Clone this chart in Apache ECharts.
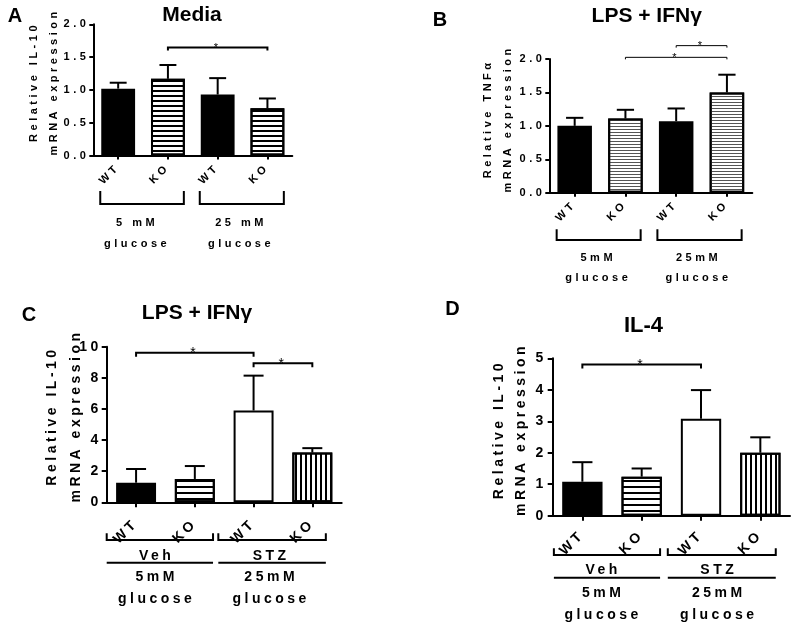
<!DOCTYPE html>
<html>
<head>
<meta charset="utf-8">
<script src="https://cdn.jsdelivr.net/npm/echarts@6/dist/echarts.min.js"></script>
<style>
html,body{margin:0;padding:0;background:#fff;}
#wrap{position:relative;width:800px;height:631px;}
#main,#over{position:absolute;left:0;top:0;width:800px;height:631px;}
#over{pointer-events:none;}
</style>
</head>
<body>
<div id="wrap"><div id="main"></div><div id="over"></div></div>
<script>
// ---------------- DATA ----------------
const categories = ['WT', 'KO', 'WT', 'KO'];
const panelLetters = ['A', 'B', 'C', 'D'];
const panelTitles = ['Media', 'LPS + IFNγ', 'LPS + IFNγ', 'IL-4'];
const yNames = [
  'Relative IL-10\nmRNA expression',
  'Relative TNFα\nmRNA expression',
  'Relative IL-10\nmRNA expression',
  'Relative IL-10\nmRNA expression'
];
// means and SEM (upward error bars)
const meanA = [1.02, 1.17, 0.93, 0.72];
const semA  = [0.09, 0.21, 0.25, 0.15];
const meanB = [1.00, 1.11, 1.07, 1.50];
const semB  = [0.12, 0.13, 0.19, 0.265];
const meanC = [1.26, 1.50, 5.90, 3.20];
const semC  = [0.88, 0.83, 2.24, 0.28];
const meanD = [1.08, 1.24, 3.08, 2.00];
const semD  = [0.62, 0.26, 0.91, 0.49];
// significance bars: [fromCategory, toCategory, yValue]
const sigA = [[1, 3, 1.645]];
const sigB = [[2, 3, 2.2], [1, 3, 2.025]];
const sigC = [[0, 2, 9.61], [2, 3, 8.93]];
const sigD = [[0, 2, 4.80]];
// y axis: [min, max, interval]
const yRangeA = [0, 2, 0.5];
const yRangeB = [0, 2, 0.5];
const yRangeC = [0, 10, 2];
const yRangeD = [0, 5, 1];
const yDecimals = [1, 1, 0, 0];
// group labels under the x axis
const groupsA = [['5 mM', 'glucose'], ['25 mM', 'glucose']];
const groupsB = [['5mM', 'glucose'], ['25mM', 'glucose']];
const groupsC = [['Veh', '5mM', 'glucose'], ['STZ', '25mM', 'glucose']];
const groupsD = [['Veh', '5mM', 'glucose'], ['STZ', '25mM', 'glucose']];

// ---------------- STYLE / LAYOUT ----------------
const FONT = "'Liberation Sans', Arial, sans-serif";
const BAR_W = 0.68;
const layouts = [
  {grid:{left:93.3, top:24.3, width:199, height:131.3}, fs:11, lh:20, nameGap:29, namePad:16, xMargin:10, yMargin:4, tickLen:4,
   sigW:2, sigTick:3, patterns:['solid','h5','solid','h5'], brackets:[[-0.36,1.32],[1.64,3.33]], textX:[0.38,2.47],
   bracketTop:35.3, bracketBot:48.3, textY:[67,88], underline:null},
  {grid:{left:549.3, top:59, width:203, height:133.7}, fs:11, lh:20, nameGap:31, namePad:14, xMargin:10, yMargin:4, tickLen:4,
   sigW:1, sigTick:2, patterns:['solid','h3','solid','h3'], brackets:[[-0.355,1.30],[1.63,3.29]], textX:[0.465,2.44],
   bracketTop:36.6, bracketBot:47.3, textY:[65.6,85.6], underline:null},
  {grid:{left:106.7, top:346.7, width:235, height:155.6}, fs:14, lh:24, nameGap:19, namePad:17, xMargin:19, yMargin:5, tickLen:5,
   sigW:2, sigTick:4, patterns:['solid','h6','open','v5'], brackets:[[-0.5,1.31],[1.40,3.23]], textX:[0.35,2.3],
   bracketTop:31, bracketBot:37.7, textY:[53.7,74.4,96.7], underline:60.4},
  {grid:{left:552.7, top:358.3, width:237.3, height:157.4}, fs:14, lh:22, nameGap:21, namePad:15, xMargin:17, yMargin:6, tickLen:5,
   sigW:2, sigTick:4, patterns:['solid','h6','open','v5'], brackets:[[-0.48,1.31],[1.44,3.26]], textX:[0.35,2.3],
   bracketTop:32.6, bracketBot:39.3, textY:[54.3,77,99.3], underline:62}
];
const titlePos = [[192,15,21],[646.7,16,21],[197,313,21],[643.5,326,22]];
const letterPos = [[15,16],[440,20],[29,315.7],[452.5,309]];

const means = [meanA, meanB, meanC, meanD];
const sems = [semA, semB, semC, semD];
const sigs = [sigA, sigB, sigC, sigD];
const ranges = [yRangeA, yRangeB, yRangeC, yRangeD];
const groups = [groupsA, groupsB, groupsC, groupsD];

function patternStyle(p) {
  const base = {borderColor:'#000', borderWidth:2};
  if (p === 'solid') return Object.assign({color:'#000'}, base);
  if (p === 'open') return Object.assign({color:'#fff'}, base);
  let decal;
  if (p === 'h5') decal = {symbol:'rect', symbolSize:1, color:'#000', dashArrayX:[1,0], dashArrayY:[2,3]};
  if (p === 'h3') decal = {symbol:'rect', symbolSize:1, color:'#555', dashArrayX:[1,0], dashArrayY:[1,2]};
  if (p === 'h6') decal = {symbol:'rect', symbolSize:1, color:'#000', dashArrayX:[1,0], dashArrayY:[2,4]};
  if (p === 'v5') decal = {symbol:'rect', symbolSize:1, color:'#000', dashArrayX:[2,3], dashArrayY:[1,0]};
  return Object.assign({color:'#fff', decal:decal}, base);
}

const grid = [], xAxis = [], yAxis = [], series = [];
layouts.forEach((L, i) => {
  const r = ranges[i];
  grid.push(Object.assign({containLabel:false}, L.grid));
  xAxis.push({
    type:'category', gridIndex:i, data:categories,
    axisLine:{show:true, lineStyle:{color:'#000', width:2}},
    axisTick:{show:true, alignWithLabel:true, length:L.tickLen, lineStyle:{color:'#000', width:2}},
    axisLabel:{interval:0, rotate:45, margin:L.xMargin, color:'#000', fontFamily:FONT, fontWeight:'bold', fontSize:L.fs},
    splitLine:{show:false}
  });
  yAxis.push({
    type:'value', gridIndex:i, min:r[0], max:r[1], interval:r[2],
    name:yNames[i], nameLocation:'middle', nameRotate:90, nameGap:L.nameGap, nameMoveOverlap:false,
    nameTextStyle:{color:'#000', fontFamily:FONT, fontWeight:'bold', fontSize:L.fs, lineHeight:L.lh, align:'center',
      padding:[0, 0, 0, L.namePad]},
    axisLine:{show:true, lineStyle:{color:'#000', width:2}},
    axisTick:{show:true, length:L.tickLen, lineStyle:{color:'#000', width:2}},
    axisLabel:{margin:L.yMargin, color:'#000', fontFamily:FONT, fontWeight:'bold', fontSize:L.fs,
      formatter:(v) => v.toFixed(yDecimals[i])},
    splitLine:{show:false}
  });
  series.push({
    type:'bar', xAxisIndex:i, yAxisIndex:i, barWidth:(BAR_W*100)+'%',
    data: means[i].map((v, k) => ({value:v, itemStyle:patternStyle(L.patterns[k])})),
    z:2
  });
  series.push({
    type:'custom', xAxisIndex:i, yAxisIndex:i, z:3,
    data: means[i].map((v, k) => [k, v, sems[i][k]]),
    encode:{x:0, y:1},
    renderItem:(params, api) => {
      const k = api.value(0), v = api.value(1), e = api.value(2);
      const p0 = api.coord([k, v]);
      const p1 = api.coord([k, v + e]);
      const bw = api.size([1, 0])[0] * BAR_W;
      const half = bw * 0.25;
      return {type:'group', children:[
        {type:'line', shape:{x1:p0[0], y1:p0[1], x2:p1[0], y2:p1[1]}, style:{stroke:'#000', lineWidth:2}},
        {type:'line', shape:{x1:p1[0]-half, y1:p1[1], x2:p1[0]+half, y2:p1[1]}, style:{stroke:'#000', lineWidth:2}}
      ]};
    }
  });
});

const chart = echarts.init(document.getElementById('main'), null, {renderer:'canvas'});
function applySpacing(c, sp) {
  try {
    const p = c.getZr().painter;
    if (p && p.getLayer) { const l = p.getLayer(0); if (l && l.ctx) l.ctx.letterSpacing = sp; }
  } catch (e) {}
  document.querySelectorAll('#main canvas').forEach(cv => { try { cv.getContext('2d').letterSpacing = sp; } catch (e) {} });
}
applySpacing(chart, '3.5px');

chart.setOption({
  backgroundColor:'#fff',
  animation:false,
  grid:grid, xAxis:xAxis, yAxis:yAxis, series:series
});

// Annotations computed from the chart's own scales
const gfx = [];
function txt(x, y, text, fs, weight) {
  return {type:'text', x:x, y:y, z:10, style:{text:text, fill:'#000', fontFamily:FONT, fontSize:fs, fontWeight:weight||'bold',
    align:'center', verticalAlign:'middle', textAlign:'center', textVerticalAlign:'middle'}};
}
function line(x1, y1, x2, y2, w) {
  return {type:'line', z:10, shape:{x1:x1, y1:y1, x2:x2, y2:y2}, style:{stroke:'#000', lineWidth:w}};
}
function poly(pts, w) {
  return {type:'polyline', z:10, shape:{points:pts}, style:{stroke:'#000', lineWidth:w, fill:null}};
}
layouts.forEach((L, i) => {
  const r = ranges[i];
  const p0 = chart.convertToPixel({gridIndex:i}, [0, r[0]]);
  const p1 = chart.convertToPixel({gridIndex:i}, [1, r[0]]);
  const step = p1[0] - p0[0];
  const catX = f => p0[0] + f * step;
  const axisY = p0[1];
  // significance bars
  sigs[i].forEach(s => {
    const a = chart.convertToPixel({gridIndex:i}, [s[0], s[2]]);
    const b = chart.convertToPixel({gridIndex:i}, [s[1], s[2]]);
    gfx.push(poly([[a[0], a[1]+L.sigTick], [a[0], a[1]], [b[0], b[1]], [b[0], b[1]+L.sigTick]], L.sigW));
    gfx.push(txt((a[0]+b[0])/2, a[1]+0.5, '*', L.fs, 'normal'));
  });
  // brackets and group labels
  L.brackets.forEach((br, g) => {
    const xa = catX(br[0]), xb = catX(br[1]);
    const yt = axisY + L.bracketTop, yb = axisY + L.bracketBot;
    gfx.push(poly([[xa, yt], [xa, yb], [xb, yb], [xb, yt]], 2));
    const tx = catX(L.textX[g]);
    const lbl = groups[i][g];
    lbl.forEach((t, j) => gfx.push(txt(tx, axisY + L.textY[j], t, L.fs)));
    if (L.underline != null) {
      gfx.push(line(xa, axisY + L.underline, xb, axisY + L.underline, 2));
    }
  });
});
applySpacing(chart, '3.5px');
chart.setOption({graphic:{elements:gfx}});

// Overlay: panel letters and titles (no letter spacing)
const over = echarts.init(document.getElementById('over'), null, {renderer:'canvas'});
const ov = [];
panelTitles.forEach((t, i) => {
  ov.push({type:'text', x:titlePos[i][0], y:titlePos[i][1], style:{text:t, fill:'#000', fontFamily:FONT, fontWeight:'bold',
    fontSize:titlePos[i][2], align:'center', verticalAlign:'middle', textAlign:'center', textVerticalAlign:'middle'}});
  ov.push({type:'text', x:letterPos[i][0], y:letterPos[i][1], style:{text:panelLetters[i], fill:'#000', fontFamily:FONT, fontWeight:'bold',
    fontSize:20, align:'center', verticalAlign:'middle', textAlign:'center', textVerticalAlign:'middle'}});
});
over.setOption({animation:false, graphic:{elements:ov}});
</script>
</body>
</html>
